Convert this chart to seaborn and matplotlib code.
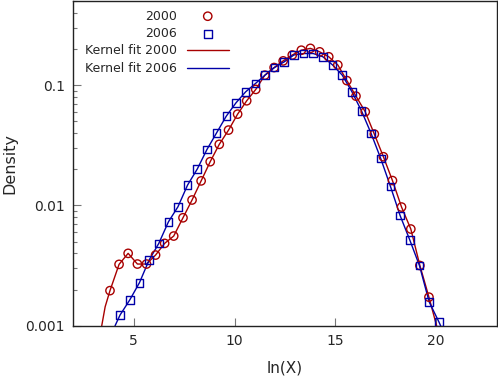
import matplotlib
matplotlib.use("Agg")
import matplotlib.pyplot as plt
import seaborn as sns
import numpy as np
from matplotlib.ticker import LogLocator, NullFormatter

# ---- data ----
x2000 = [3.82, 4.27, 4.72, 5.18, 5.63, 6.08, 6.53, 6.98, 7.44, 7.89, 8.34, 8.79,
         9.24, 9.70, 10.15, 10.60, 11.05, 11.50, 11.96, 12.41, 12.86, 13.31, 13.76,
         14.22, 14.67, 15.12, 15.57, 16.02, 16.48, 16.93, 17.38, 17.83, 18.28, 18.74,
         19.19, 19.64]
y2000 = [0.00196, 0.00324, 0.00400, 0.00326, 0.00326, 0.00387, 0.00484, 0.00557,
         0.00790, 0.0111, 0.0160, 0.0231, 0.0322, 0.0423, 0.0574, 0.0741, 0.0921,
         0.121, 0.140, 0.159, 0.178, 0.195, 0.202, 0.189, 0.172, 0.147, 0.109,
         0.081, 0.0600, 0.0392, 0.0254, 0.0161, 0.0097, 0.00637, 0.00317, 0.00173]

x2006 = [4.32, 4.80, 5.28, 5.76, 6.24, 6.72, 7.19, 7.67, 8.15, 8.63, 9.11, 9.59,
         10.07, 10.55, 11.03, 11.51, 11.98, 12.46, 12.94, 13.42, 13.90, 14.38,
         14.86, 15.34, 15.82, 16.30, 16.77, 17.25, 17.73, 18.21, 18.69, 19.17,
         19.65, 20.13]
y2006 = [0.00123, 0.00164, 0.00228, 0.00352, 0.00484, 0.00732, 0.00975, 0.0148,
         0.0201, 0.0292, 0.0402, 0.0553, 0.0713, 0.0880, 0.103, 0.121, 0.140,
         0.156, 0.178, 0.183, 0.183, 0.172, 0.147, 0.121, 0.088, 0.0608, 0.0397,
         0.0245, 0.0144, 0.00824, 0.00516, 0.00316, 0.00158, 0.00108]

# kernel-fit curves: the points above plus the ends where they leave the axes
fit2000_x = [3.41, 3.58] + x2000 + [20.02]
fit2000_y = [0.001, 0.00144] + y2000 + [0.001]
fit2006_x = [4.07] + x2006 + [20.22]
fit2006_y = [0.001] + y2006 + [0.001]

RED = "#a80000"
BLUE = "#0000a8"

sns.set_style("ticks")
plt.rcParams["font.family"] = ["DejaVu Sans"]

fig = plt.figure(figsize=(4.98, 3.78), dpi=100)
ax = fig.add_axes([73.3 / 498, 1 - 325.8 / 378, (496.7 - 73.3) / 498, (325.8 - 1) / 378])
ax.set_yscale("log")

sns.lineplot(x=fit2000_x, y=fit2000_y, sort=False, estimator=None, color=RED,
             lw=1.0, ax=ax, label="Kernel fit 2000", zorder=2)
sns.lineplot(x=fit2006_x, y=fit2006_y, sort=False, estimator=None, color=BLUE,
             lw=1.0, ax=ax, label="Kernel fit 2006", zorder=2)
sns.scatterplot(x=x2000, y=y2000, marker="o", s=36, facecolor="none",
                edgecolor=RED, linewidth=1.0, ax=ax, label="2000", zorder=3)
sns.scatterplot(x=x2006, y=y2006, marker="s", s=30, facecolor="none",
                edgecolor=BLUE, linewidth=1.0, ax=ax, label="2006", zorder=3)

ax.set_xlim(2, 23)
ax.set_ylim(0.001, 0.5)
ax.set_xticks([5, 10, 15, 20])
ax.set_xticklabels(["5", "10", "15", "20"])
ax.set_yticks([0.001, 0.01, 0.1])
ax.set_yticklabels(["0.001", "0.01", "0.1"])
ax.yaxis.set_minor_locator(LogLocator(base=10, subs=np.arange(2, 10)))
ax.yaxis.set_minor_formatter(NullFormatter())

ax.tick_params(axis="both", which="major", direction="in", length=5.5, width=0.8,
               color="#777777", labelsize=10, top=False, right=False)
ax.tick_params(axis="x", which="major", pad=6)
ax.tick_params(axis="y", which="major", pad=6)
ax.tick_params(axis="y", which="minor", direction="in", length=3, width=0.8,
               color="#777777", right=False)
for sp in ax.spines.values():
    sp.set_visible(True)
    sp.set_color("#222222")
    sp.set_linewidth(1.0)

ax.set_xlabel("ln(X)", fontsize=11, labelpad=9)
ax.set_ylabel("Density", fontsize=11.5, labelpad=6)

handles, labels = ax.get_legend_handles_labels()
order = ["2000", "2006", "Kernel fit 2000", "Kernel fit 2006"]
hmap = dict(zip(labels, handles))
leg = ax.legend([hmap[k] for k in order], order, loc="upper right",
                bbox_to_anchor=(229 / 498, 1 - 9.5 / 378), bbox_transform=fig.transFigure,
                frameon=False, markerfirst=False, fontsize=9, handlelength=3.4,
                handletextpad=0.8, labelspacing=0.36, borderpad=0, borderaxespad=0)
for t in leg.get_texts():
    t.set_ha("right")

fig.savefig("out.png", dpi=100)
